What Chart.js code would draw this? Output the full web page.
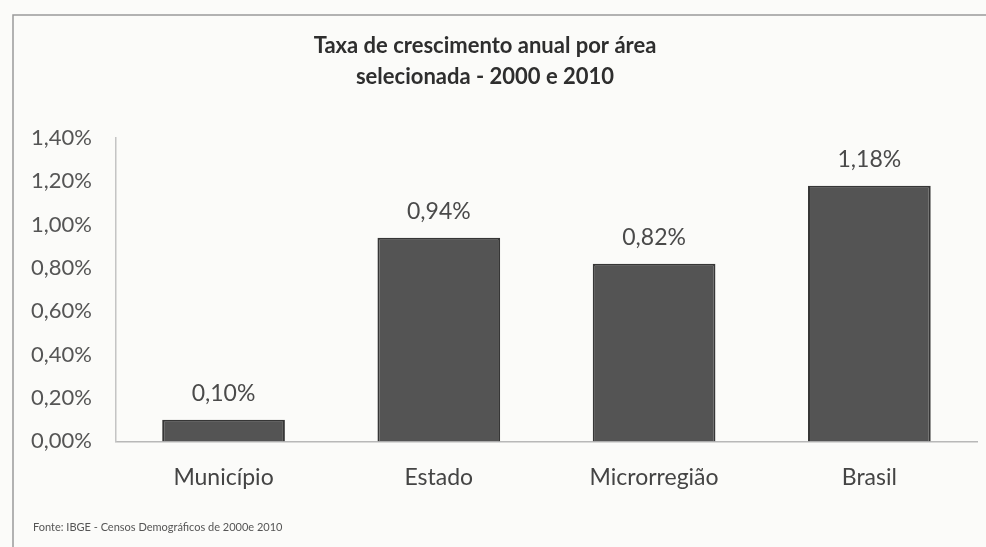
<!DOCTYPE html>
<html>
<head>
<meta charset="utf-8">
<script src="https://cdn.jsdelivr.net/npm/chart.js@4"></script>
<style>
  html, body { margin: 0; padding: 0; background: #f8f8f6; }
  #wrap { width: 986px; height: 547px; }
</style>
</head>
<body>
<div id="wrap"><canvas id="chart"></canvas></div>
<script>
const categorias = ['Município', 'Estado', 'Microrregião', 'Brasil'];
const taxas = [0.10, 0.94, 0.82, 1.18];
const tituloLinhas = ['Taxa de crescimento anual por área', 'selecionada - 2000 e 2010'];
const fonte = 'Fonte: IBGE - Censos Demográficos de 2000e 2010';

const fmt = v => v.toFixed(2).replace('.', ',') + '%';

// moldura, titulo, rotulos e fonte
const extras = {
  id: 'extras',
  beforeDraw(chart) {
    const { ctx, width, height } = chart;
    ctx.save();
    ctx.fillStyle = '#fbfbf9';
    ctx.fillRect(0, 0, width, height);
    ctx.strokeStyle = '#9a9a9a';
    ctx.lineWidth = 1.5;
    ctx.beginPath();
    ctx.moveTo(13, height);
    ctx.lineTo(13, 15);
    ctx.lineTo(width, 15);
    ctx.stroke();
    ctx.restore();
  },
  afterDatasetsDraw(chart) {
    const { ctx } = chart;
    const meta = chart.getDatasetMeta(0);
    ctx.save();
    ctx.font = '23px Lato';
    ctx.fillStyle = '#4a4a4a';
    ctx.textAlign = 'center';
    ctx.textBaseline = 'middle';
    meta.data.forEach((bar, i) => {
      ctx.fillText(fmt(taxas[i]), bar.x, bar.y - 26);
    });
    ctx.restore();
  },
  afterDraw(chart) {
    const { ctx } = chart;
    ctx.save();
    ctx.fillStyle = '#2e2e2e';
    ctx.font = 'bold 22px Lato';
    ctx.textAlign = 'center';
    ctx.textBaseline = 'middle';
    tituloLinhas.forEach((t, i) => ctx.fillText(t, 485, 46 + i * 31));
    ctx.font = '11px Lato';
    ctx.fillStyle = '#555';
    ctx.textAlign = 'left';
    ctx.fillText(fonte, 33, 527);
    ctx.restore();
  },
};

new Chart(document.getElementById('chart'), {
  type: 'bar',
  data: {
    labels: categorias,
    datasets: [
      {
        data: taxas,
        backgroundColor: '#545454',
        borderColor: '#363636',
        borderWidth: 2,
        barPercentage: 0.6,
        categoryPercentage: 0.95,
      },
    ],
  },
  options: {
    responsive: true,
    maintainAspectRatio: false,
    animation: false,
    layout: { padding: { top: 138, right: 9, bottom: 34, left: 7 } },
    plugins: { legend: { display: false }, tooltip: { enabled: false } },
    scales: {
      x: {
        grid: { display: false, drawTicks: false },
        border: { color: '#b8b8b8', width: 1.5 },
        ticks: { font: { family: 'Lato', size: 23 }, color: '#444', padding: 22 },
      },
      y: {
        min: 0,
        max: 1.4,
        grid: { display: false, drawTicks: false },
        border: { color: '#c4c4c4', width: 1.5 },
        ticks: {
          stepSize: 0.2,
          font: { family: 'Lato', size: 22 },
          color: '#555',
          padding: 24,
          callback: v => fmt(v),
        },
      },
    },
  },
  plugins: [extras],
});
</script>
</body>
</html>
